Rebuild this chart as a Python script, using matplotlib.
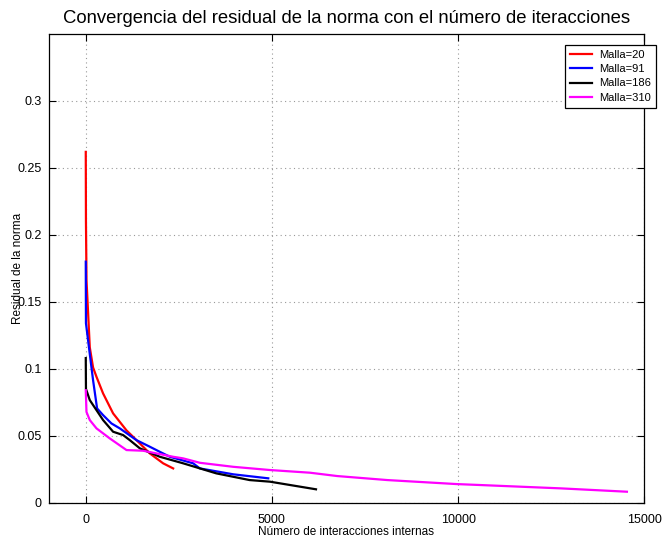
import matplotlib.pyplot as plt

plt.rcParams['font.family'] = ['Liberation Sans', 'DejaVu Sans']

# Residual of the norm vs. number of internal iterations, one curve per mesh
it_20 = [0, 5, 20, 108, 196, 288, 465, 734, 1094, 1363, 1720, 2078, 2347]
res_20 = [0.262, 0.21, 0.166, 0.116, 0.101, 0.094, 0.0816, 0.0667, 0.054, 0.0467, 0.0368, 0.0294, 0.0256]

it_91 = [0, 5, 108, 196, 304, 465, 689, 914, 1363, 1720, 1989, 2258, 2884, 3064, 3961, 4901]
res_91 = [0.180, 0.134, 0.111, 0.0915, 0.0704, 0.0654, 0.0592, 0.0555, 0.0467, 0.0418, 0.038, 0.0343, 0.0294, 0.0256, 0.0212, 0.0182]

it_186 = [0, 5, 108, 288, 465, 734, 1003, 1183, 1452, 1989, 2616, 3506, 4400, 4945, 6183]
res_186 = [0.108, 0.085, 0.0766, 0.0691, 0.0617, 0.053, 0.0505, 0.0467, 0.0406, 0.0343, 0.0294, 0.0219, 0.0169, 0.0157, 0.010]

it_310 = [0, 19, 108, 288, 645, 1094, 1542, 2347, 2616, 3064, 3961, 4945, 6020, 6754, 8098, 9964, 10591, 12757, 14533]
res_310 = [0.084, 0.0678, 0.0617, 0.0555, 0.048, 0.0393, 0.0388, 0.0343, 0.0331, 0.0298, 0.0268, 0.0244, 0.0224, 0.0199, 0.0169, 0.0139, 0.0132, 0.0107, 0.0082]

labels = ['Malla=20', 'Malla=91', 'Malla=186', 'Malla=310']
x_ticks = [0, 5000, 10000, 15000]
y_ticks = [0, 0.05, 0.1, 0.15, 0.2, 0.25, 0.3]
y_ticklabels = ['0', '0.05', '0.1', '0.15', '0.2', '0.25', '0.3']

fig = plt.figure(figsize=(6.63, 5.41), dpi=100)
ax = fig.add_axes([0.0732, 0.0708, 0.8986, 0.8663])

ax.plot(it_20, res_20, color='red', lw=1.6, label=labels[0])
ax.plot(it_91, res_91, color='blue', lw=1.6, label=labels[1])
ax.plot(it_186, res_186, color='black', lw=1.6, label=labels[2])
ax.plot(it_310, res_310, color='magenta', lw=1.6, label=labels[3])

ax.set_xlim(-1000, 15000)
ax.set_ylim(0, 0.35)
ax.set_xticks(x_ticks)
ax.set_yticks(y_ticks)
ax.set_yticklabels(y_ticklabels)
ax.tick_params(direction='in', top=True, right=True, length=5, width=0.8,
               labelsize=9)
ax.tick_params(axis='x', pad=8)
ax.tick_params(axis='y', pad=5)
ax.grid(True, linestyle=(0, (1, 3)), color='#999999', linewidth=0.8)
for sp in ax.spines.values():
    sp.set_linewidth(0.9)

ax.set_title('Convergencia del residual de la norma con el número de iteracciones',
             fontsize=13.3, pad=8)
ax.set_xlabel('Número de interacciones internas', fontsize=8.5)
ax.set_ylabel('Residual de la norma', fontsize=8.5)
ax.xaxis.set_label_coords(0.5, -0.05)
ax.yaxis.set_label_coords(-0.041, 0.5)

# legend sits partly past the right edge of the figure
leg = ax.legend(loc='upper left', bbox_to_anchor=(565 / 663, 1 - 45 / 541),
                bbox_transform=fig.transFigure, fontsize=8, frameon=True,
                fancybox=False, framealpha=1, edgecolor='black',
                handlelength=2.0, labelspacing=0.38, borderpad=0.45,
                handletextpad=0.65, borderaxespad=0)
leg.get_frame().set_linewidth(0.9)

fig.savefig('out.png', dpi=100)
